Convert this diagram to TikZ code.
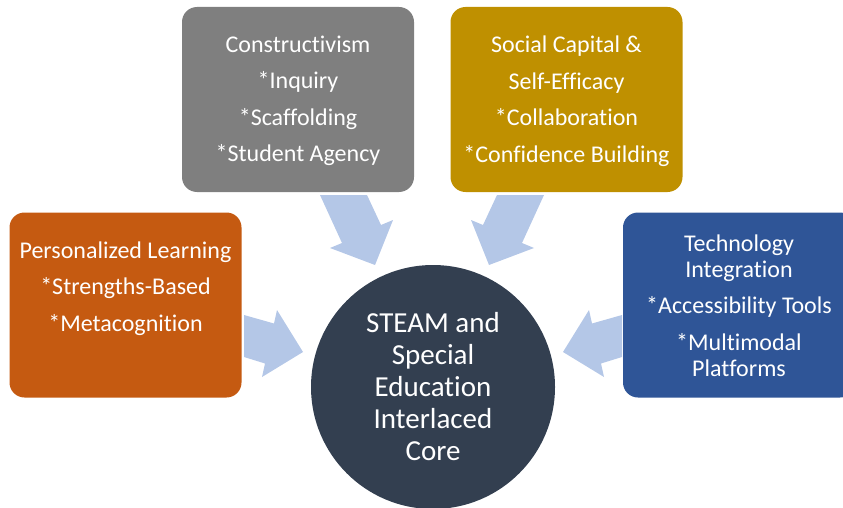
\documentclass[tikz,border=0pt]{standalone}
\usepackage{fontspec}
\setmainfont{Carlito}[Ligatures={NoCommon}]
\definecolor{cgray}{HTML}{7F7F7F}
\definecolor{cgold}{HTML}{BF9000}
\definecolor{corange}{HTML}{C55A11}
\definecolor{cblue}{HTML}{2F5597}
\definecolor{ccore}{HTML}{333F50}
\definecolor{carrow}{HTML}{B4C7E7}
\begin{document}
\begin{tikzpicture}[x=1pt,y=-1pt,
  box/.style={rectangle, rounded corners=15pt, minimum width=232pt, minimum height=185pt, inner sep=0pt, draw=none},
  txt/.style={text=white, align=center, inner sep=0pt, font=\fontsize{24}{26}\selectfont},
  core/.style={circle, fill=ccore, minimum size=244pt, inner sep=0pt},
  blockarrow/.style={fill=carrow, draw=none}]
\useasboundingbox (0,0) rectangle (843,508);
\clip (0,0) rectangle (843,508);
% arrows
\fill[blockarrow] (320,195) -- (367,195) -- (381,225) -- (393,220) -- (375,265) -- (330,248) -- (342,243) -- cycle;
\fill[blockarrow] (544,195) -- (497,195) -- (483,225) -- (471,220) -- (489,265) -- (534,248) -- (522,243) -- cycle;
\fill[blockarrow] (244,315) -- (274,323.5) -- (277,310) -- (303,352) -- (262,377) -- (265,363.5) -- (244,357) -- cycle;
\fill[blockarrow] (622,315) -- (592,323.5) -- (589,310) -- (563,352) -- (604,377) -- (601,363.5) -- (622,357) -- cycle;
% boxes
\node[box, fill=cgray] (constr) at (298,99.5) {};
\node[box, fill=cgold] (social) at (566.5,99.5) {};
\node[box, fill=corange] (pers) at (125.5,305) {};
\node[box, fill=cblue] (tech) at (739,305) {};
\node[core] (core) at (433,387) {};
% texts
\node[txt] (constrT) at (298,101) {Constructivism\\[10.5pt]*Inquiry\\[10.5pt]*Scaffolding\\[10.5pt]*Student Agency};
\node[txt] (socialT) at (566.5,101) {Social Capital \&\\[10.5pt]Self-Efficacy\\[10.5pt]*Collaboration\\[10.5pt]*Confidence Building};
\node[txt] (persT) at (125.5,288.5) {Personalized Learning\\[10.5pt]*Strengths-Based\\[10.5pt]*Metacognition};
\node[txt] (techT) at (739,305.5) {Technology\\Integration\\[10.5pt]*Accessibility Tools\\[10.5pt]*Multimodal\\Platforms};
\node[txt, font=\fontsize{29}{32}\selectfont] (coreT) at (433,387) {STEAM and\\Special\\Education\\Interlaced\\Core};
\end{tikzpicture}
\end{document}
